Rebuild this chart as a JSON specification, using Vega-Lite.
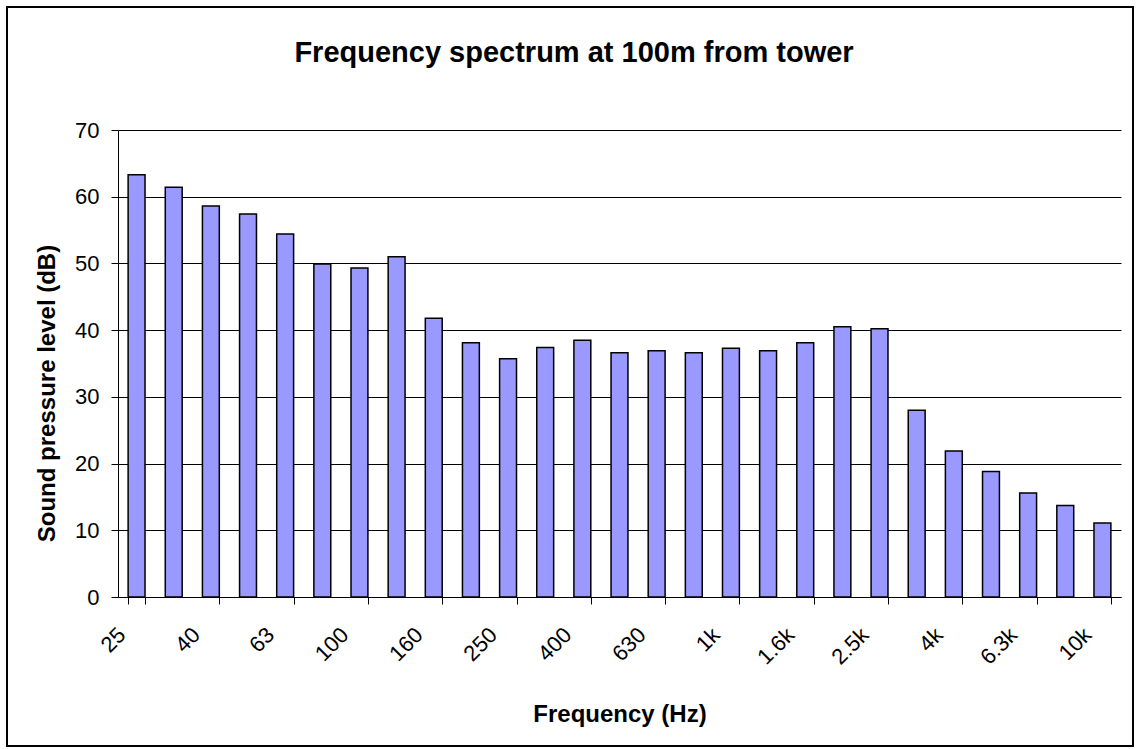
{
  "$schema": "https://vega.github.io/schema/vega-lite/v6.json",
  "width": 1126,
  "height": 739,
  "autosize": {"type": "none"},
  "padding": {"left": 7, "top": 7, "right": 3, "bottom": 3},
  "background": "white",
  "view": {"stroke": "black", "strokeWidth": 2, "fill": "white"},
  "title": {
    "text": "Frequency spectrum at 100m from tower",
    "font": "Liberation Sans",
    "fontSize": 29,
    "fontWeight": "bold",
    "color": "black",
    "anchor": "middle",
    "frame": "group",
    "dx": 4,
    "baseline": "alphabetic",
    "offset": -84
  },
  "data": {
    "values": [
      {"freq": "25", "spl": 63.3},
      {"freq": "31.5", "spl": 61.4},
      {"freq": "40", "spl": 58.6},
      {"freq": "50", "spl": 57.4},
      {"freq": "63", "spl": 54.4},
      {"freq": "80", "spl": 49.9},
      {"freq": "100", "spl": 49.3},
      {"freq": "125", "spl": 51.0},
      {"freq": "160", "spl": 41.8},
      {"freq": "200", "spl": 38.1},
      {"freq": "250", "spl": 35.7},
      {"freq": "315", "spl": 37.4},
      {"freq": "400", "spl": 38.5},
      {"freq": "500", "spl": 36.6},
      {"freq": "630", "spl": 36.9},
      {"freq": "800", "spl": 36.6},
      {"freq": "1k", "spl": 37.3},
      {"freq": "1.25k", "spl": 36.9},
      {"freq": "1.6k", "spl": 38.1},
      {"freq": "2k", "spl": 40.5},
      {"freq": "2.5k", "spl": 40.2},
      {"freq": "3.15k", "spl": 28.0},
      {"freq": "4k", "spl": 21.9},
      {"freq": "5k", "spl": 18.8},
      {"freq": "6.3k", "spl": 15.6},
      {"freq": "8k", "spl": 13.7},
      {"freq": "10k", "spl": 11.1}
    ]
  },
  "mark": {"type": "bar", "fill": "#9999FF", "stroke": "black", "strokeWidth": 1.5},
  "encoding": {
    "x": {
      "field": "freq",
      "type": "nominal",
      "sort": null,
      "scale": {"paddingInner": 0.545, "paddingOuter": 0.2725, "range": [111, 1114]},
      "axis": {
        "title": "Frequency (Hz)",
        "values": ["25", "40", "63", "100", "160", "250", "400", "630", "1k", "1.6k", "2.5k", "4k", "6.3k", "10k"],
        "offset": -149,
        "labelAngle": -45,
        "labelAlign": "right",
        "labelBaseline": "middle",
        "labelOffset": -15,
        "tickBand": "extent",
        "tickSize": 7,
        "tickColor": "black",
        "domainColor": "black",
        "labelFont": "Liberation Sans",
        "labelFontSize": 22,
        "labelColor": "black",
        "labelPadding": 27,
        "titleFont": "Liberation Sans",
        "titleFontSize": 24,
        "titleFontWeight": "bold",
        "titleColor": "black",
        "titleBaseline": "alphabetic",
        "titleY": 124,
        "grid": false
      }
    },
    "y": {
      "field": "spl",
      "type": "quantitative",
      "scale": {"domain": [0, 70], "nice": false, "range": [590, 123]},
      "axis": {
        "title": "Sound pressure level (dB)",
        "values": [0, 10, 20, 30, 40, 50, 60, 70],
        "offset": -111,
        "tickSize": 7,
        "tickColor": "black",
        "domainColor": "black",
        "grid": true,
        "gridColor": "black",
        "gridOpacity": 1,
        "labelFont": "Liberation Sans",
        "labelFontSize": 22,
        "labelColor": "black",
        "labelPadding": 12,
        "titleFont": "Liberation Sans",
        "titleFontSize": 24,
        "titleFontWeight": "bold",
        "titleColor": "black",
        "titleBaseline": "alphabetic",
        "titleX": -64,
        "titleY": 386
      }
    }
  }
}
